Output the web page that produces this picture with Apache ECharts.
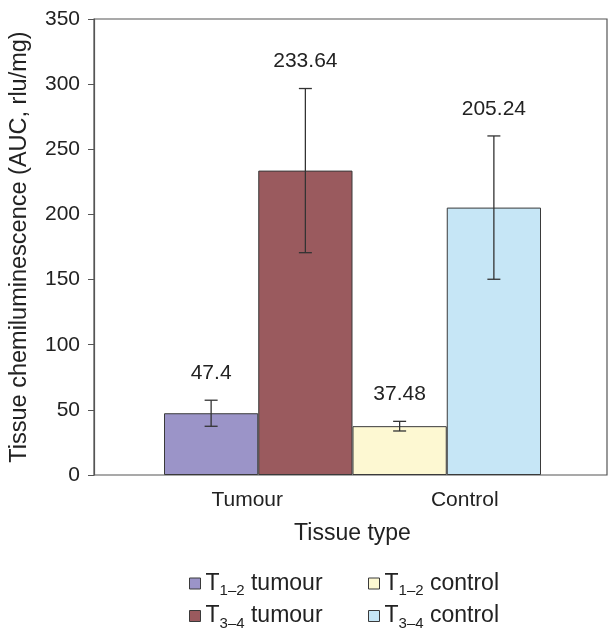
<!DOCTYPE html>
<html><head><meta charset="utf-8">
<script src="https://cdn.jsdelivr.net/npm/echarts@6/dist/echarts.min.js"></script>
<style>html,body{margin:0;padding:0;background:#fff}#c{width:609px;height:632px}</style>
</head><body><div id="c"></div>
<script>
const categories = ['Tumour', 'Control'];
const seriesNames = ['T1–2 tumour', 'T3–4 tumour', 'T1–2 control', 'T3–4 control'];
const t12Tumour = [47.4, '-'];
const t34Tumour = [233.64, '-'];
const t12Control = ['-', 37.48];
const t34Control = ['-', 205.24];
// error half-widths
const errT12Tumour = 10;
const errT34Tumour = 63;
const errT12Control = 3.7;
const errT34Control = 55;
const yTicks = [0, 50, 100, 150, 200, 250, 300, 350];

const colors = ['#9b94c8', '#9a5a5e', '#fdf8d2', '#c6e6f6'];
const FONT = 'Liberation Sans, Arial, sans-serif';

// [categoryIndex, slot(0 = T1–2, 1 = T3–4), mean, error]
const errData = [
  [0, 0, t12Tumour[0], errT12Tumour],
  [0, 1, t34Tumour[0], errT34Tumour],
  [1, 0, t12Control[1], errT12Control],
  [1, 1, t34Control[1], errT34Control]
];

const chart = echarts.init(document.getElementById('c'));
const barBase = {type: 'bar', xAxisIndex: 1, yAxisIndex: 1, barGap: '0%', barCategoryGap: '0%',
  itemStyle: {borderColor: '#3a3a3a', borderWidth: 1}};
const legendFmt = n => n.replace(/T(\d–\d)/, 'T{s|$1}');
const legendText = {fontFamily: FONT, fontSize: 23, color: '#222',
  rich: {s: {fontFamily: FONT, fontSize: 15, lineHeight: 30, verticalAlign: 'bottom', color: '#222'}}};

chart.setOption({
  animation: false,
  backgroundColor: '#fff',
  grid: [
    {left: 94, right: 2, top: 19, bottom: 157, show: true, borderColor: '#555', borderWidth: 1.2},
    {left: 164, right: 68, top: 19, bottom: 157}
  ],
  xAxis: [
    {gridIndex: 0, type: 'value', show: false},
    {gridIndex: 1, type: 'category', data: categories,
      axisLine: {show: false}, axisTick: {show: false},
      name: 'Tissue type', nameLocation: 'middle', nameGap: 47,
      nameTextStyle: {fontFamily: FONT, fontSize: 23, color: '#222'},
      axisLabel: {margin: 15, fontFamily: FONT, fontSize: 21, color: '#222',
        formatter: v => v === 'Tumour' ? '{a|' + v + '}' : '{b|' + v + '}',
        rich: {a: {fontFamily: FONT, fontSize: 21, color: '#222', padding: [0, 22, 0, 0]},
               b: {fontFamily: FONT, fontSize: 21, color: '#222', padding: [0, 0, 0, 36]}}}}
  ],
  yAxis: [
    {gridIndex: 0, type: 'value', min: yTicks[0], max: yTicks[yTicks.length - 1], interval: 50,
      axisLine: {show: true, lineStyle: {color: '#555', width: 1.2}},
      axisTick: {show: true, length: 6, lineStyle: {color: '#555'}},
      splitLine: {show: false},
      axisLabel: {margin: 14, fontFamily: FONT, fontSize: 21, color: '#222'},
      name: 'Tissue chemiluminescence (AUC, rlu/mg)', nameLocation: 'middle', nameGap: 62,
      nameTextStyle: {fontFamily: FONT, fontSize: 23.5, color: '#222'}},
    {gridIndex: 1, type: 'value', min: yTicks[0], max: yTicks[yTicks.length - 1], show: false}
  ],
  legend: [
    {data: [seriesNames[0], seriesNames[1]], orient: 'vertical', left: 189, top: 572, height: 90, padding: 0,
      itemWidth: 11, itemHeight: 11, itemGap: 6, icon: 'rect', formatter: legendFmt, textStyle: legendText,
      itemStyle: {borderColor: '#3a3a3a', borderWidth: 1}},
    {data: [seriesNames[2], seriesNames[3]], orient: 'vertical', left: 368, top: 572, height: 90, padding: 0,
      itemWidth: 11, itemHeight: 11, itemGap: 6, icon: 'rect', formatter: legendFmt, textStyle: legendText,
      itemStyle: {borderColor: '#3a3a3a', borderWidth: 1}}
  ],
  series: [
    Object.assign({}, barBase, {name: seriesNames[0], stack: 'a', data: t12Tumour, itemStyle: Object.assign({}, barBase.itemStyle, {color: colors[0]})}),
    Object.assign({}, barBase, {name: seriesNames[1], stack: 'b', data: t34Tumour, itemStyle: Object.assign({}, barBase.itemStyle, {color: colors[1]})}),
    Object.assign({}, barBase, {name: seriesNames[2], stack: 'a', data: t12Control, itemStyle: Object.assign({}, barBase.itemStyle, {color: colors[2]})}),
    Object.assign({}, barBase, {name: seriesNames[3], stack: 'b', data: t34Control, itemStyle: Object.assign({}, barBase.itemStyle, {color: colors[3]})}),
    {
      type: 'custom', xAxisIndex: 1, yAxisIndex: 1, z: 10, data: errData,
      renderItem: function (params, api) {
        const cat = api.value(0), slot = api.value(1), mean = api.value(2), err = api.value(3);
        const band = api.size([1, 0])[0];
        const off = (slot === 0 ? -1 : 1) * band / 4;
        const hi = api.coord([cat, mean + err]);
        const lo = api.coord([cat, mean - err]);
        const x = hi[0] + off;
        const cap = 6.5;
        const ls = {stroke: '#333', lineWidth: 1.3};
        return {type: 'group', children: [
          {type: 'line', shape: {x1: x, y1: hi[1], x2: x, y2: lo[1]}, style: ls},
          {type: 'line', shape: {x1: x - cap, y1: hi[1], x2: x + cap, y2: hi[1]}, style: ls},
          {type: 'line', shape: {x1: x - cap, y1: lo[1], x2: x + cap, y2: lo[1]}, style: ls},
          {type: 'text', style: {text: String(mean), x: x, y: hi[1] - 27, align: 'center', verticalAlign: 'middle',
            font: '21px ' + FONT, fill: '#222'}}
        ]};
      }
    }
  ]
});
</script></body></html>
